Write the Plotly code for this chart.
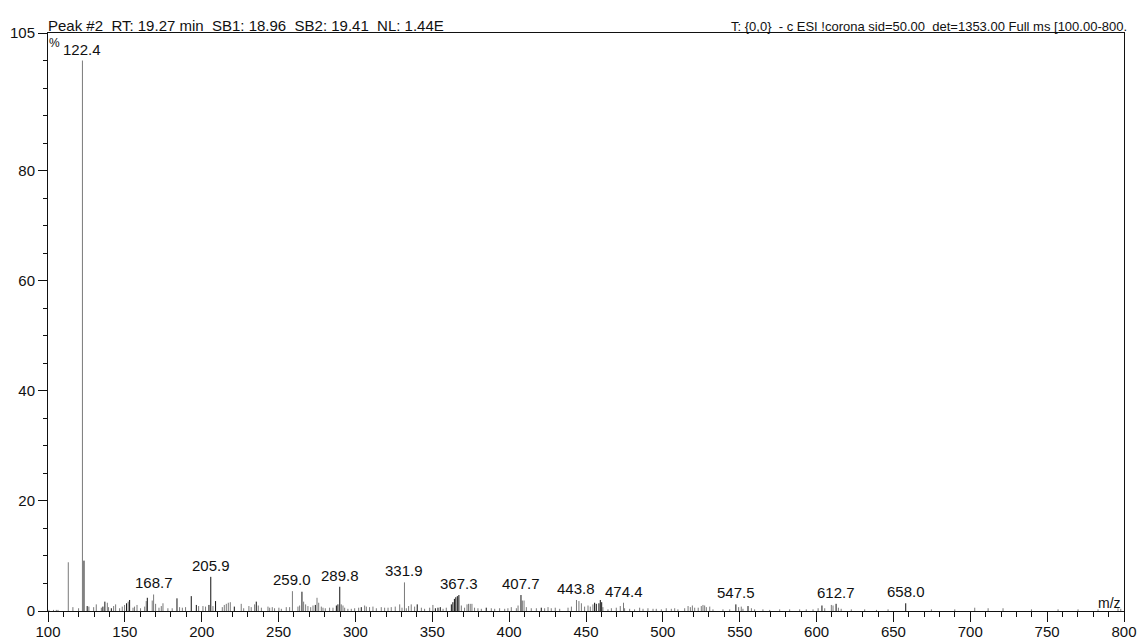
import plotly.graph_objects as go

# ---- data (m/z, relative abundance %) ----
gray_mz = [100.6, 103.6, 105.4, 106.5, 113.2, 116.2, 119.9, 122.4, 126.6, 129.7, 131.4, 134.7,
           138.6, 139.4, 142.7, 144.0, 146.6, 148.3, 149.8, 152.2, 155.3, 156.3, 157.9, 160.2,
           162.9, 163.9, 167.8, 168.7, 170.0, 172.2, 173.7, 174.8, 178.0, 180.8, 185.6, 187.4,
           189.5, 198.0, 200.8, 202.5, 207.3, 213.4, 214.7, 216.0, 217.3, 218.6, 225.7, 227.3,
           230.7, 232.2, 234.4, 236.8, 238.8, 243.1, 244.2, 245.9, 247.4, 250.2, 251.8, 255.0,
           257.2, 259.0, 262.6, 263.7, 266.3, 267.6, 269.1, 270.9, 272.4, 275.0, 276.1, 277.8,
           278.9, 280.4, 283.2, 285.4, 290.8, 291.9, 293.0, 295.1, 297.3, 299.5, 302.1, 306.0,
           307.1, 309.2, 311.4, 313.6, 316.8, 319.0, 321.2, 323.3, 325.9, 328.8, 330.3, 331.9,
           333.1, 334.6, 336.3, 338.5, 342.9, 345.0, 348.3, 350.4, 357.0, 359.1, 368.9, 371.0,
           372.6, 373.6, 374.7, 375.8, 377.5, 379.7, 381.9, 388.4, 390.6, 393.8, 397.1, 399.2,
           401.4, 404.7, 405.8, 408.6, 409.7, 411.2, 414.4, 417.7, 423.1, 425.3, 427.4, 430.0,
           432.9, 438.3, 440.5, 443.8, 445.4, 447.0, 449.1, 451.3, 452.8, 454.5, 461.0, 464.3,
           466.5, 469.7, 472.3, 474.4, 475.1, 478.4, 481.6, 484.9, 487.1, 490.3, 493.6, 495.7,
           499.0, 502.2, 505.5, 507.7, 509.8, 514.2, 516.4, 517.9, 519.2, 520.7, 523.0, 525.0,
           526.1, 527.2, 528.3, 530.5, 532.6, 539.1, 543.5, 549.3, 551.0, 552.1, 557.6, 559.7,
           565.1, 569.5, 576.0, 582.5, 589.0, 593.3, 597.7, 601.0, 605.3, 609.6, 610.7, 614.2,
           616.0, 622.6, 631.3, 639.0, 646.5, 674.7, 689.9, 702.9, 711.6, 721.3, 739.8, 757.1,
           770.1, 783.1, 796.1, 797.9]
gray_int = [0.2, 0.2, 0.2, 0.2, 8.85, 0.7, 0.5, 100.0, 0.8, 0.7, 1.2, 0.6,
            1.5, 0.7, 0.9, 1.2, 0.5, 0.8, 1.1, 1.7, 0.6, 0.8, 1.1, 0.5,
            0.8, 1.8, 1.9, 3.0, 1.3, 0.6, 0.9, 1.4, 0.5, 0.5, 0.7, 0.6,
            0.7, 0.9, 0.9, 0.8, 0.9, 0.7, 1.1, 1.3, 1.5, 1.6, 1.3, 0.5,
            0.9, 0.7, 1.2, 1.0, 0.6, 0.8, 0.6, 0.7, 0.5, 0.6, 0.4, 0.7,
            0.7, 3.6, 0.8, 1.0, 1.7, 1.2, 0.9, 0.7, 1.0, 2.4, 1.5, 0.8,
            0.6, 0.5, 0.6, 0.6, 1.2, 1.0, 0.6, 0.4, 0.4, 0.5, 0.6, 1.0,
            0.8, 0.7, 0.8, 0.5, 0.7, 0.6, 0.6, 0.7, 0.8, 1.2, 0.6, 5.2,
            0.5, 0.9, 1.2, 0.8, 0.6, 0.4, 0.6, 1.1, 0.4, 0.6, 1.0, 0.6,
            1.2, 1.3, 1.3, 1.3, 0.6, 0.5, 0.4, 0.5, 0.4, 0.5, 0.4, 0.5,
            0.7, 0.5, 1.0, 1.9, 1.9, 0.7, 0.5, 0.5, 0.5, 0.7, 0.5, 0.6,
            0.4, 0.6, 0.8, 2.0, 1.8, 1.4, 0.8, 1.0, 0.8, 1.2, 0.7, 0.3,
            0.5, 0.6, 0.9, 1.5, 0.5, 0.4, 0.3, 0.6, 0.4, 0.5, 0.4, 0.4,
            0.3, 0.5, 0.4, 0.5, 0.3, 0.5, 0.9, 0.7, 1.0, 0.6, 0.6, 0.9,
            1.1, 1.0, 0.7, 0.8, 0.3, 0.3, 0.3, 0.7, 0.8, 0.4, 0.5, 0.3,
            0.3, 0.2, 0.3, 0.3, 0.3, 0.3, 0.3, 0.5, 0.5, 1.1, 1.0, 0.6,
            0.4, 0.3, 0.3, 0.2, 0.3, 0.3, 0.3, 0.6, 0.5, 0.5, 0.3, 0.3,
            0.3, 0.3, 0.5, 0.4]

black_mz = [123.4, 125.5, 135.7, 137.0, 141.2, 151.1, 153.1, 164.6, 183.9, 193.2, 196.5,
            204.7, 205.9, 209.0, 221.2, 235.5, 265.2, 273.9, 287.6, 288.6, 289.8, 303.8,
            340.2, 352.0, 353.7, 355.2, 362.4, 363.4, 364.4, 365.3, 366.3, 367.3, 385.1,
            407.7, 420.9, 455.6, 456.7, 458.4, 459.3, 460.2, 547.5, 555.4, 603.5, 612.7, 658.0]
black_int = [9.15, 0.9, 0.8, 1.7, 0.5, 1.4, 2.0, 2.4, 2.3, 2.7, 1.1,
             1.1, 6.2, 1.8, 0.8, 1.7, 3.5, 1.1, 1.0, 1.2, 4.4, 0.7,
             1.2, 0.5, 0.6, 0.7, 1.2, 1.6, 2.2, 2.5, 2.7, 2.9, 0.6,
             2.9, 0.6, 1.5, 1.3, 1.4, 2.0, 1.6, 1.2, 0.9, 1.0, 1.3, 1.4]

label_mz = [122.4, 168.7, 205.9, 259.0, 289.8, 331.9, 367.3, 407.7, 443.8, 474.4, 547.5, 612.7, 658.0]
label_int = [100.0, 3.0, 6.2, 3.6, 4.4, 5.2, 2.9, 2.9, 2.0, 1.5, 1.2, 1.3, 1.4]
label_text = ["122.4", "168.7", "205.9", "259.0", "289.8", "331.9", "367.3", "407.7",
              "443.8", "474.4", "547.5", "612.7", "658.0"]

y_tickvals = [0, 20, 40, 60, 80, 105]
y_ticktext = ["0", "20", "40", "60", "80", "105"]
y_minor_vals = [5, 10, 15, 25, 30, 35, 45, 50, 55, 65, 70, 75, 85, 90, 95, 100]
x_tickvals = [100, 150, 200, 250, 300, 350, 400, 450, 500, 550, 600, 650, 700, 750, 800]

header_left = "Peak #2  RT: 19.27 min  SB1: 18.96  SB2: 19.41  NL: 1.44E"
header_right = "T: {0,0}  - c ESI !corona sid=50.00  det=1353.00 Full ms [100.00-800."

FONT = "Liberation Sans Narrow, Arial Narrow, Liberation Sans, Arial, sans-serif"


def sticks(mz, inten):
    xs, ys = [], []
    for m, v in zip(mz, inten):
        xs += [m, m, None]
        ys += [0, v, None]
    return xs, ys


fig = go.Figure()
gx, gy = sticks(gray_mz, gray_int)
bx, by = sticks(black_mz, black_int)
fig.add_trace(go.Scatter(x=gx, y=gy, mode="lines", line=dict(color="#7a7a7a", width=1),
                         hoverinfo="skip", showlegend=False))
fig.add_trace(go.Scatter(x=bx, y=by, mode="lines", line=dict(color="#111111", width=1),
                         hoverinfo="skip", showlegend=False))

for m, v, t in zip(label_mz, label_int, label_text):
    fig.add_annotation(x=m, y=v, xref="x", yref="y", text=t, showarrow=False,
                       yanchor="bottom", xanchor="center", yshift=1,
                       font=dict(size=15, color="#111111", family=FONT))

fig.add_annotation(x=100, y=105, xref="x", yref="y", text="%", showarrow=False,
                   xanchor="left", yanchor="top", xshift=-1, yshift=-1,
                   font=dict(size=12, color="#111111", family=FONT))
fig.add_annotation(x=800, y=0, xref="x", yref="y", text="m/z", showarrow=False,
                   xanchor="right", yanchor="bottom", xshift=-1, yshift=-2,
                   font=dict(size=14, color="#111111", family=FONT))
fig.add_annotation(x=0, y=1, xref="paper", yref="paper", text=header_left, showarrow=False,
                   xanchor="left", yanchor="bottom", xshift=-2, yshift=-3,
                   font=dict(size=15, color="#111111", family=FONT))
fig.add_annotation(x=1, y=1, xref="paper", yref="paper", text=header_right, showarrow=False,
                   xanchor="right", yanchor="bottom", xshift=5, yshift=-3,
                   font=dict(size=13, color="#111111", family=FONT))

fig.update_layout(
    width=1139, height=641,
    margin=dict(l=48, r=15, t=33, b=30, autoexpand=False),
    paper_bgcolor="white", plot_bgcolor="white",
    font=dict(family=FONT, size=15, color="#111111"),
    xaxis=dict(range=[100, 800], tickmode="array", tickvals=x_tickvals, automargin=False,
               showgrid=False, zeroline=False, showline=True, linecolor="#111111",
               linewidth=1, mirror=True, ticks="outside", ticklen=10, tickcolor="#111111",
               ticklabelstandoff=-3,
               minor=dict(dtick=10, tick0=100, ticks="outside", ticklen=5, tickcolor="#111111"),
               tickfont=dict(size=15), fixedrange=True),
    yaxis=dict(range=[0, 105], tickmode="array", tickvals=y_tickvals, ticktext=y_ticktext,
               automargin=False,
               showgrid=False, zeroline=False, showline=True, linecolor="#111111",
               linewidth=1, mirror=True, ticks="outside", ticklen=9, tickcolor="#111111",
               minor=dict(tickmode="array", tickvals=y_minor_vals, ticks="outside",
                          ticklen=4, tickcolor="#111111"),
               tickfont=dict(size=15), fixedrange=True),
)

fig.write_html("out.html", config={"displayModeBar": False},
               post_script="document.body.style.margin='0';document.body.style.overflow='hidden';")
